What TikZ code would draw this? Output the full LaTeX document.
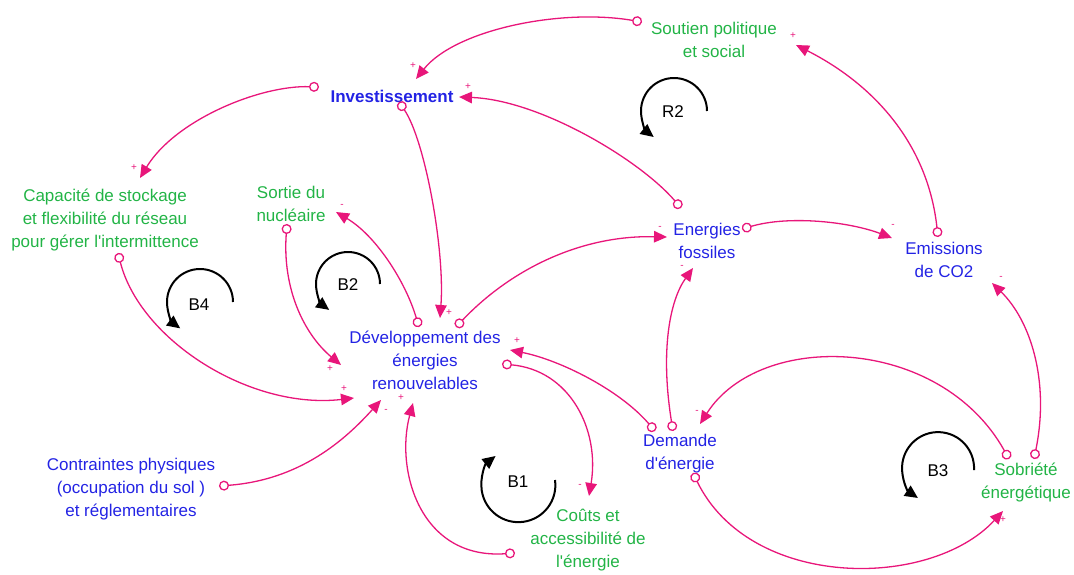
\documentclass[tikz,border=0pt]{standalone}
\usepackage{fontspec}
\newfontfamily\lsans{Liberation Sans}
\usetikzlibrary{arrows.meta}
\definecolor{linkpink}{RGB}{232,22,122}
\definecolor{varblue}{RGB}{35,35,228}
\definecolor{vargreen}{RGB}{34,180,70}
\begin{document}
\begin{tikzpicture}[x=1pt,y=-1pt,
  var/.style={align=center,inner sep=0pt,font=\lsans\fontsize{17}{23}\selectfont},
  bluevar/.style={var,text=varblue},
  greenvar/.style={var,text=vargreen},
  link/.style={draw=linkpink,line width=1.3pt,{Circle[open,length=10pt,width=10pt]}-{Triangle[length=13pt,width=11.5pt]}},
  sign/.style={text=linkpink,font=\lsans\fontsize{10}{10}\selectfont,inner sep=0pt},
  loopline/.style={draw=black,line width=2pt,-{Triangle[length=13pt,width=12pt]}},
  looplabel/.style={inner sep=0pt,font=\lsans\fontsize{17}{17}\selectfont}]
\useasboundingbox (0,0) rectangle (1074,574);

% variables
\node[greenvar] (soutien) at (714,40) {Soutien politique\\et social};
\node[bluevar,font=\lsans\bfseries\fontsize{17}{23}\selectfont] (inv) at (392,96) {Investissement};
\node[greenvar] (cap) at (105,220) {Capacité de stockage\\et flexibilité du réseau\\pour gérer l'intermittence};
\node[greenvar] (sortie) at (291,204) {Sortie du\\nucléaire};
\node[bluevar] (dev) at (425,360) {Développement des\\énergies\\renouvelables};
\node[bluevar] (fos) at (707,241) {Energies\\fossiles};
\node[bluevar] (emis) at (944,260) {Emissions\\de CO2};
\node[bluevar] (dem) at (680,454) {Demande\\d'énergie};
\node[greenvar] (sob) at (1026,482) {Sobriété\\énergétique};
\node[bluevar] (contr) at (131,489) {Contraintes physiques\\(occupation du sol )\\et réglementaires};
\node[greenvar] (couts) at (588,540) {Coûts et\\accessibilité de\\l'énergie};

% connector end points
\coordinate (soutien-o) at (642,22);
\coordinate (inv-i1) at (416,79);
\coordinate (inv-i2) at (459,97);
\coordinate (inv-o1) at (319,87);
\coordinate (inv-o2) at (399,102);
\coordinate (cap-i) at (140,178);
\coordinate (cap-o) at (118,253);
\coordinate (sortie-i) at (336,212);
\coordinate (sortie-o) at (287,224);
\coordinate (dev-i1) at (440,318);
\coordinate (dev-i2) at (341,365);
\coordinate (dev-i3) at (354,398);
\coordinate (dev-i4) at (381,400);
\coordinate (dev-i5) at (413,403);
\coordinate (dev-i6) at (510,350);
\coordinate (dev-o1) at (419,327);
\coordinate (dev-o2) at (456,327);
\coordinate (dev-o3) at (502,364);
\coordinate (fos-i1) at (667,237);
\coordinate (fos-i2) at (693,268);
\coordinate (fos-o1) at (681,208);
\coordinate (fos-o2) at (742,229);
\coordinate (emis-i) at (892,238);
\coordinate (emis-i2) at (992,283);
\coordinate (emis-o) at (938,237);
\coordinate (soutien-i) at (796,45);
\coordinate (couts-i) at (589,496);
\coordinate (couts-o) at (515,553);
\coordinate (contr-o) at (219,486);
\coordinate (dem-o1) at (655,431);
\coordinate (dem-o2) at (673,431);
\coordinate (dem-o3) at (693,473);
\coordinate (dem-i) at (700,424);
\coordinate (sob-i) at (1003,511);
\coordinate (sob-o1) at (1009,459);
\coordinate (sob-o2) at (1034,459);

% connectors
\draw[link] (soutien-o) .. controls (560,8) and (455,30) .. (inv-i1);
\draw[link] (fos-o1) .. controls (640,160) and (540,100) .. (inv-i2);
\draw[link] (inv-o1) .. controls (260,85) and (175,120) .. (cap-i);
\draw[link] (inv-o2) .. controls (425,140) and (445,250) .. (dev-i1);
\draw[link] (cap-o) .. controls (140,340) and (250,410) .. (dev-i3);
\draw[link] (sortie-o) .. controls (282,290) and (305,335) .. (dev-i2);
\draw[link] (dev-o1) .. controls (405,280) and (375,235) .. (sortie-i);
\draw[link] (dev-o2) .. controls (510,270) and (580,235) .. (fos-i1);
\draw[link] (dev-o3) .. controls (570,370) and (600,430) .. (couts-i);
\draw[link] (couts-o) .. controls (420,560) and (395,470) .. (dev-i5);
\draw[link] (contr-o) .. controls (300,480) and (345,440) .. (dev-i4);
\draw[link] (dem-o1) .. controls (620,390) and (560,360) .. (dev-i6);
\draw[link] (dem-o2) .. controls (660,350) and (670,300) .. (fos-i2);
\draw[link] (fos-o2) .. controls (790,215) and (850,222) .. (emis-i);
\draw[link] (emis-o) .. controls (928,145) and (875,85) .. (soutien-i);
\draw[link] (sob-o2) .. controls (1050,380) and (1030,320) .. (emis-i2);
\draw[link] (sob-o1) .. controls (940,335) and (760,330) .. (dem-i);
\draw[link] (dem-o3) .. controls (750,590) and (930,590) .. (sob-i);

% polarity signs
\node[sign] (p1) at (413,66) {+};
\node[sign] (p2) at (468,87) {+};
\node[sign] (p3) at (134,168) {+};
\node[sign] (p4) at (449,313) {+};
\node[sign] (p5) at (344,389) {+};
\node[sign] (p6) at (330,369) {+};
\node[sign] (p7) at (342,206) {-};
\node[sign] (p8) at (660,228) {-};
\node[sign] (p9) at (580,486) {-};
\node[sign] (p10) at (401,398) {+};
\node[sign] (p11) at (386,411) {-};
\node[sign] (p12) at (517,341) {+};
\node[sign] (p13) at (682,267) {-};
\node[sign] (p14) at (893,226) {-};
\node[sign] (p15) at (793,36) {+};
\node[sign] (p16) at (1001,278) {-};
\node[sign] (p17) at (697,412) {-};
\node[sign] (p18) at (1003,520) {+};

% loop markers
\draw[loopline] (707,111) arc[start angle=0,end angle=232,radius=33pt];
\node[looplabel] (r2) at (673,112) {R2};
\draw[loopline] (380,284) arc[start angle=0,end angle=234,radius=32pt];
\node[looplabel] (b2) at (348,285) {B2};
\draw[loopline] (233,302) arc[start angle=0,end angle=233,radius=33pt];
\node[looplabel] (b4) at (199,305) {B4};
\draw[loopline] (974,470) arc[start angle=-3,end angle=236,radius=36pt];
\node[looplabel] (b3) at (938,471) {B3};
\draw[loopline] (555,480) arc[start angle=8,end angle=-232,radius=37pt];
\node[looplabel] (b1) at (518,482) {B1};
\end{tikzpicture}
\end{document}
